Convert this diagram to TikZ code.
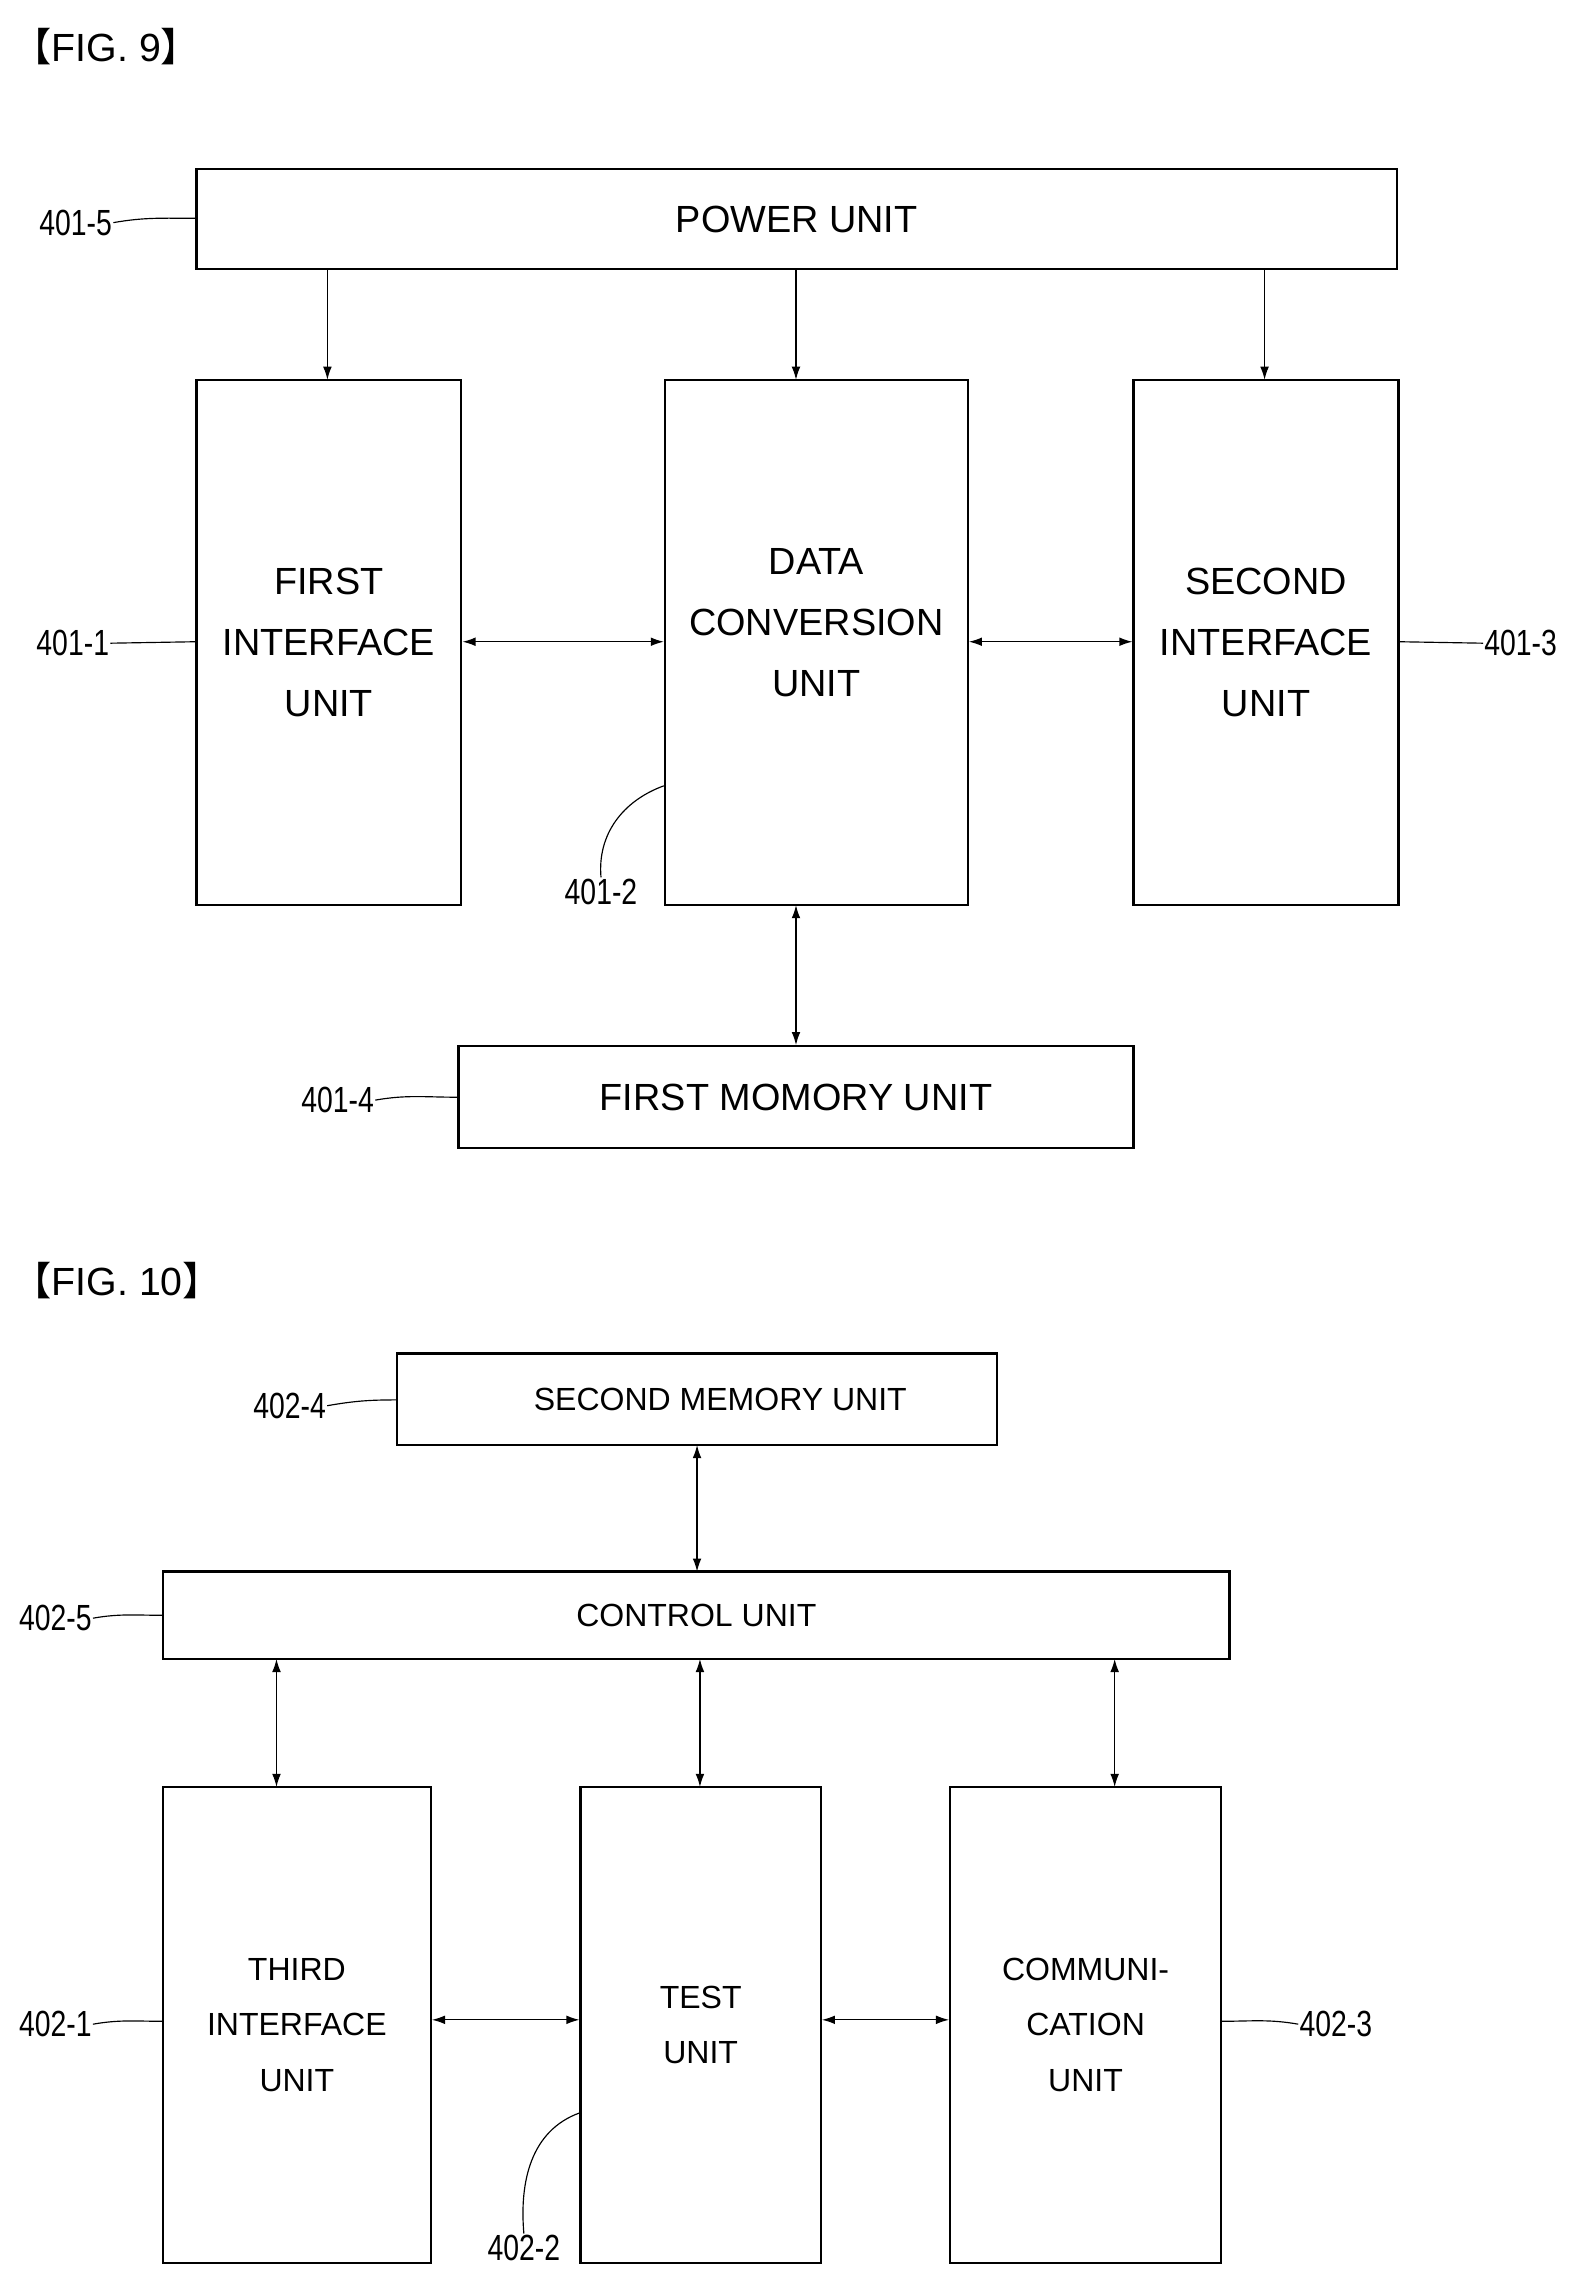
\documentclass[tikz,border=0pt]{standalone}
\usepackage{fontspec}
\setmainfont{Liberation Sans}
\newfontfamily\cjkfont{Noto Sans CJK SC}
\usetikzlibrary{arrows.meta}
\tikzset{
  unit/.style={draw, line width=1.6pt, inner sep=0pt, align=center},
  tip/.tip={Latex[length=9pt,width=6pt]},
  link/.style={tip-tip, line width=0.9pt},
  feed/.style={-tip, line width=0.9pt},
  tag/.style={font=\fontsize{25}{28}\selectfont, inner sep=1pt, xscale=0.78},
  lead/.style={line width=0.8pt}
}
\newcommand{\figtitle}[1]{{\cjkfont 【}FIG. #1{\cjkfont 】}}
\begin{document}
\begin{tikzpicture}[x=1pt,y=-1pt]
\useasboundingbox (0,0) rectangle (1080,1562);
% FIG. 9
\node[anchor=west, font=\fontsize{27}{30}\selectfont] (t9) at (5,32) {\figtitle{9}};
\begin{scope}[every node/.append style={font=\fontsize{26}{42}\selectfont}]
\node[unit, minimum width=825pt, minimum height=69pt] (pwr) at (547.5,150.5) {POWER UNIT};
\node[unit, minimum width=182pt, minimum height=361pt] (if1) at (226,441.5) {FIRST\\INTERFACE\\UNIT};
\node[unit, minimum width=208pt, minimum height=361pt] (conv) at (561,441.5) {};
\node[align=center] (convtxt) at (561,428) {DATA\\CONVERSION\\UNIT};
\node[unit, minimum width=182pt, minimum height=361pt] (if2) at (870,441.5) {SECOND\\INTERFACE\\UNIT};
\node[unit, minimum width=464pt, minimum height=70pt] (mem1) at (547,754) {FIRST MOMORY UNIT};
\end{scope}
\foreach \x in {225, 547, 869}
  \draw[feed] (\x,185) -- (\x,261);
\draw[link] (if1.east |- 0,441) -- (conv.west |- 0,441);
\draw[link] (conv.east |- 0,441) -- (if2.west |- 0,441);
\draw[link] (547,622) -- (mem1.north -| 547,0);
% reference labels
\node[tag] (l95) at (52,153) {401-5};
\node[tag] (l91) at (50,442) {401-1};
\node[tag] (l93) at (1045,442) {401-3};
\node[tag] (l92) at (413,613) {401-2};
\node[tag] (l94) at (232,756) {401-4};
\draw[lead] (l95.east) to[out=10,in=180] (pwr.west |- 0,150);
\draw[lead] (l91.east) -- (if1.west |- 0,441);
\draw[lead] (l93.west) -- (if2.east |- 0,441);
\draw[lead] (l92.north) to[out=95,in=200] (conv.west |- 0,540);
\draw[lead] (l94.east) to[out=10,in=180] (mem1.west |- 0,754);
% FIG. 10
\node[anchor=west, font=\fontsize{27}{30}\selectfont] (t10) at (5,880) {\figtitle{10}};
\begin{scope}[every node/.append style={font=\fontsize{22}{38}\selectfont}]
\node[unit, minimum width=412pt, minimum height=63pt] (mem2) at (479,961.5) {\hspace*{32pt}SECOND MEMORY UNIT};
\node[unit, minimum width=733pt, minimum height=60pt] (ctl) at (478.5,1110) {CONTROL UNIT};
\node[unit, minimum width=184pt, minimum height=327pt] (if3) at (204,1391.5) {THIRD\\INTERFACE\\UNIT};
\node[unit, minimum width=165pt, minimum height=327pt] (test) at (481.5,1391.5) {TEST\\UNIT};
\node[unit, minimum width=186pt, minimum height=327pt] (comm) at (746,1391.5) {COMMUNI-\\CATION\\UNIT};
\end{scope}
\draw[link] (479,993) -- (479,1080);
\foreach \x in {190, 481, 766}
  \draw[link] (\x,1140) -- (\x,1228);
\draw[link] (if3.east |- 0,1388) -- (test.west |- 0,1388);
\draw[link] (test.east |- 0,1388) -- (comm.west |- 0,1388);
\node[tag] (l104) at (199,966) {402-4};
\node[tag] (l105) at (38,1112) {402-5};
\node[tag] (l101) at (38,1391) {402-1};
\node[tag] (l103) at (918,1391) {402-3};
\node[tag] (l102) at (360,1545) {402-2};
\draw[lead] (l104.east) to[out=10,in=180] (mem2.west |- 0,962);
\draw[lead] (l105.east) to[out=10,in=180] (ctl.west |- 0,1110);
\draw[lead] (l101.east) to[out=10,in=180] (if3.west |- 0,1389);
\draw[lead] (l103.west) to[out=170,in=0] (comm.east |- 0,1389);
\draw[lead] (l102.north) to[out=95,in=200] (test.west |- 0,1452);
\end{tikzpicture}
\end{document}
